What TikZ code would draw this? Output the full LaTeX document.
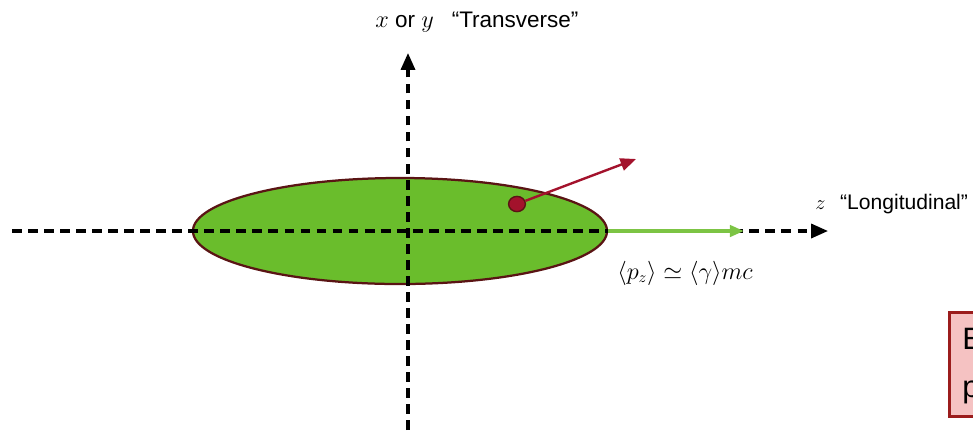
\documentclass[tikz,border=0pt]{standalone}
\usepackage{fontspec}
\setmainfont{Liberation Sans}
\usetikzlibrary{shapes.geometric, arrows.meta, positioning}

\definecolor{bunchgreen}{HTML}{6ABD2C}
\definecolor{bunchedge}{HTML}{5A1414}
\definecolor{arrowgreen}{HTML}{7CC444}
\definecolor{particlered}{HTML}{A3122C}
\definecolor{notefill}{HTML}{F5C2C2}
\definecolor{noteedge}{HTML}{9B1C1C}

\begin{document}
\begin{tikzpicture}[x=0.025cm, y=-0.025cm]
    % Define styles for the nodes
    \tikzstyle{axis_line} = [
        line width=2.2pt, dash pattern=on 7pt off 4.4pt,
        -{Triangle[length=12pt, width=10pt]}
    ]
    \tikzstyle{label_text} = [inner sep=0, font=\fontsize{16}{19}\selectfont]

    \useasboundingbox (0,0) rectangle (973,430);

    % Bunch
    \node[
        ellipse, draw=bunchedge, line width=1.6pt, fill=bunchgreen,
        minimum width=10.35cm, minimum height=2.65cm, inner sep=0
    ] (bunch) at (400,231) {};

    % Axes
    \coordinate (z_start) at (12,231);
    \coordinate (z_end) at (828,231);
    \coordinate (t_start) at (408,430);
    \coordinate (t_end) at (408,53);
    \draw[axis_line] (z_start) -- (z_end);
    \draw[axis_line] (t_start) -- (t_end);

    % Axis labels
    \node[label_text, anchor=west] (x_lab) at (375,22)
        {$x$ or $y$\hspace{0.8em}“Transverse”};
    \node[label_text, anchor=west, font=\fontsize{15}{18}\selectfont]
        (z_lab) at (815,204) {$z$\hspace{0.7em}“Longitudinal”};

    % Mean momentum
    \coordinate (pz_end) at (744,231);
    \draw[line width=2.6pt, arrowgreen, -{Triangle[length=10pt, width=8pt]}]
        (bunch.east) -- (pz_end);
    \node[
        inner sep=0, font=\fontsize{16}{19}\selectfont
    ] (pz_lab) at (685,273) {$\langle p_z\rangle \simeq \langle\gamma\rangle mc$};

    % Particle
    \node[
        ellipse, draw=bunchedge, fill=particlered, line width=1pt,
        minimum width=0.42cm, minimum height=0.38cm, inner sep=0
    ] (particle) at (517,204) {};
    \coordinate (p_end) at (636,159);
    \draw[line width=1.7pt, particlered, -{Triangle[length=11pt, width=9pt]}]
        (particle) -- (p_end);

    % Note box (cut at the right edge)
    \node[
        anchor=north west, draw=noteedge, fill=notefill, line width=2pt,
        minimum width=2cm, minimum height=2.6cm, inner sep=0
    ] (note) at (948,311) {};
    \node[
        anchor=north west, inner sep=0, font=\fontsize{22}{34}\selectfont,
        align=left
    ] (note_text) at (962,328) {E\\p};

\end{tikzpicture}
\end{document}
